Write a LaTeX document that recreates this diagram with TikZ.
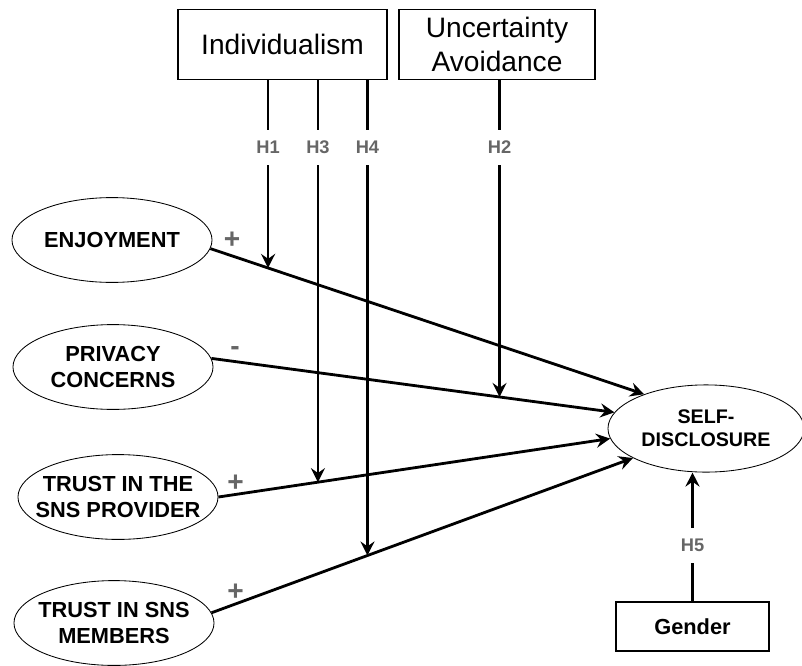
\documentclass[tikz,border=0pt]{standalone}
\usepackage{fontspec}
\setmainfont{Liberation Sans}
\usetikzlibrary{positioning, arrows.meta, calc, shapes.geometric}
\definecolor{hypgray}{HTML}{666666}

\begin{document}
\begin{tikzpicture}[x=0.025cm, y=-0.025cm,
  construct/.style={ellipse, draw, line width=0.6pt, minimum width=5cm,
    minimum height=2.12cm, inner xsep=-0.8cm, inner ysep=-0.3cm, align=center,
    font=\bfseries\fontsize{15.5}{18}\selectfont},
  culture/.style={rectangle, draw, line width=0.8pt, minimum height=1.75cm,
    inner sep=0pt, align=center, font=\fontsize{20}{24}\selectfont},
  hyp/.style={text=hypgray, font=\bfseries\fontsize{13}{15}\selectfont,
    minimum height=0.875cm, inner sep=0pt},
  sign/.style={text=hypgray, font=\bfseries\fontsize{20}{22}\selectfont, inner sep=0pt},
  stem/.style={line width=2pt},
  effect/.style={line width=2pt, -{Stealth[length=10pt, width=10pt, inset=3.5pt]}}]
  \useasboundingbox (0,0) rectangle (802,665);

  % Moderators
  \node[culture, minimum width=5.225cm] (ind) at (282.5,44.5) {Individualism};
  \node[culture, minimum width=4.9cm] (unc) at (497,44.5) {Uncertainty\\Avoidance};

  % Antecedents
  \node[construct] (enj) at (112,240) {ENJOYMENT};
  \node[construct] (pri) at (113,367) {PRIVACY\\CONCERNS};
  \node[construct] (tpr) at (118,497) {TRUST IN THE\\SNS PROVIDER};
  \node[construct] (tmb) at (114,623) {TRUST IN SNS\\MEMBERS};

  % Outcome
  \node[construct, minimum width=4.9cm, minimum height=2.18cm,
    font=\bfseries\fontsize{14}{16.5}\selectfont] (sd) at (706,428.5) {SELF-\\DISCLOSURE};

  % Control
  \node[draw, line width=1pt, minimum width=3.825cm, minimum height=1.225cm,
    font=\bfseries\fontsize{15.5}{18}\selectfont] (gen) at (692.5,626.5) {Gender};

  % Main effects
  \draw[effect] (enj.-5) -- coordinate[pos=0.133] (m1) (sd.151);
  \draw[effect] (pri.5) -- coordinate[pos=0.715] (m2) (sd.170);
  \draw[effect] (tpr.east) -- coordinate[pos=0.254] (m3) (sd.-174);
  \draw[effect] (tmb.6) -- coordinate[pos=0.370] (m4) (sd.-158);

  % Signs
  \node[sign] (s1) at (232,240) {+};
  \node[sign] (s2) at (235,351) {-};
  \node[sign] (s3) at (235.5,483) {+};
  \node[sign] (s4) at (235.5,592) {+};

  % Moderating effects
  \coordinate (hrow) at (0,147.5);
  \node[hyp] (h1) at (m1 |- hrow) {H1};
  \node[hyp] (h3) at (m3 |- hrow) {H3};
  \node[hyp] (h4) at (m4 |- hrow) {H4};
  \node[hyp] (h2) at (m2 |- hrow) {H2};
  \draw[stem] (ind.south -| m1) -- (h1.north);
  \draw[effect] (h1.south) -- (m1);
  \draw[stem] (ind.south -| m3) -- (h3.north);
  \draw[effect] (h3.south) -- (m3);
  \draw[stem] (ind.south -| m4) -- (h4.north);
  \draw[effect] (h4.south) -- (m4);
  \draw[stem] (unc.south -| m2) -- (h2.north);
  \draw[effect] (h2.south) -- (m2);

  % Gender
  \node[hyp] (h5) at (gen.north |- 0,545.5) {H5};
  \draw[stem] (gen.north) -- (h5.south);
  \draw[effect] (h5.north) -- (h5.north |- sd.south);
\end{tikzpicture}
\end{document}
